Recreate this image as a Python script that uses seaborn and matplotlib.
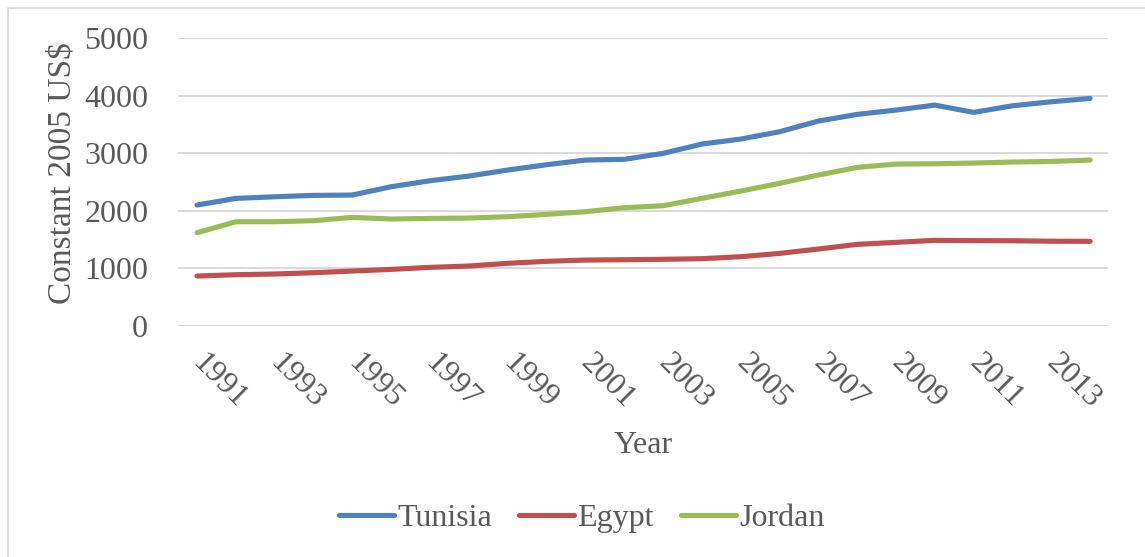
import numpy as np
import pandas as pd
import matplotlib
matplotlib.use("Agg")
import matplotlib.pyplot as plt
from matplotlib.patches import Rectangle
import seaborn as sns

years = list(range(1991, 2015))
tunisia = [2099, 2215, 2243, 2267, 2273, 2418, 2522, 2603, 2708, 2800, 2882, 2894,
           2998, 3160, 3247, 3374, 3560, 3676, 3751, 3838, 3711, 3826, 3896, 3954]
egypt = [864, 887, 899, 922, 951, 980, 1015, 1038, 1085, 1120, 1142, 1148,
         1155, 1166, 1200, 1258, 1334, 1415, 1450, 1485, 1480, 1478, 1470, 1468]
jordan = [1618, 1809, 1809, 1827, 1885, 1856, 1867, 1873, 1896, 1937, 1983, 2053,
          2087, 2215, 2342, 2476, 2621, 2754, 2812, 2817, 2830, 2847, 2858, 2882]
countries = ["Tunisia", "Egypt", "Jordan"]
colors = ["#4F81BD", "#C0504D", "#9BBB59"]
tick_years = list(range(1991, 2014, 2))
y_ticks = [0, 1000, 2000, 3000, 4000, 5000]

df = pd.DataFrame({
    "Year": years * 3,
    "Value": tunisia + egypt + jordan,
    "Country": sum([[c] * len(years) for c in countries], []),
})

sns.set_style("white")
plt.rcParams["font.family"] = ["Liberation Serif", "DejaVu Serif"]
text_color = "#595959"
fs = 23

fig = plt.figure(figsize=(11.45, 5.57), dpi=100)
ax = fig.add_axes([178 / 1145, 1 - 325.7 / 557, (1108 - 178) / 1145, (325.7 - 38.3) / 557])

sns.lineplot(data=df, x="Year", y="Value", hue="Country", hue_order=countries,
             palette=colors, linewidth=3.7, ax=ax, legend=True)
for line in ax.lines:
    line.set_solid_capstyle("round")
    line.set_solid_joinstyle("round")

ax.set_ylim(0, 5000)
ax.set_xlim(1990.51, 2014.46)
ax.set_yticks(y_ticks)
ax.set_yticklabels([str(v) for v in y_ticks], fontsize=fs, color=text_color)
ax.set_xticks(tick_years)
ax.set_xticklabels([str(v) for v in tick_years], fontsize=fs, color=text_color,
                   rotation=-45, ha="left", va="center", rotation_mode="anchor")
ax.tick_params(axis="x", length=0, pad=24)
ax.tick_params(axis="y", length=0, pad=21.5)
ax.yaxis.grid(True, color="#D9D9D9", linewidth=1.4)
ax.xaxis.grid(False)
ax.set_axisbelow(True)
for s in ax.spines.values():
    s.set_visible(False)

ax.set_xlabel("Year", fontsize=fs, color=text_color, labelpad=12)
ax.set_ylabel("Constant 2005 US$", fontsize=24, color=text_color)
ax.yaxis.set_label_coords(-0.108, 0.53)

handles, labels = ax.get_legend_handles_labels()
ax.legend_.remove()
fig.legend(handles, labels, loc="center", bbox_to_anchor=(582 / 1145, 1 - 518 / 557),
           ncol=3, frameon=False, fontsize=fs, handlelength=1.72, handletextpad=0.1,
           columnspacing=0.85, labelcolor=text_color, borderaxespad=0, borderpad=0)

fig.patches.append(Rectangle((7.5 / 1145, -0.1), 1.2, 1.1 - 7.5 / 557,
                             transform=fig.transFigure, fill=False,
                             edgecolor="#D9D9D9", linewidth=1.2, zorder=-1))

fig.savefig("out.png", dpi=100, facecolor="white")
